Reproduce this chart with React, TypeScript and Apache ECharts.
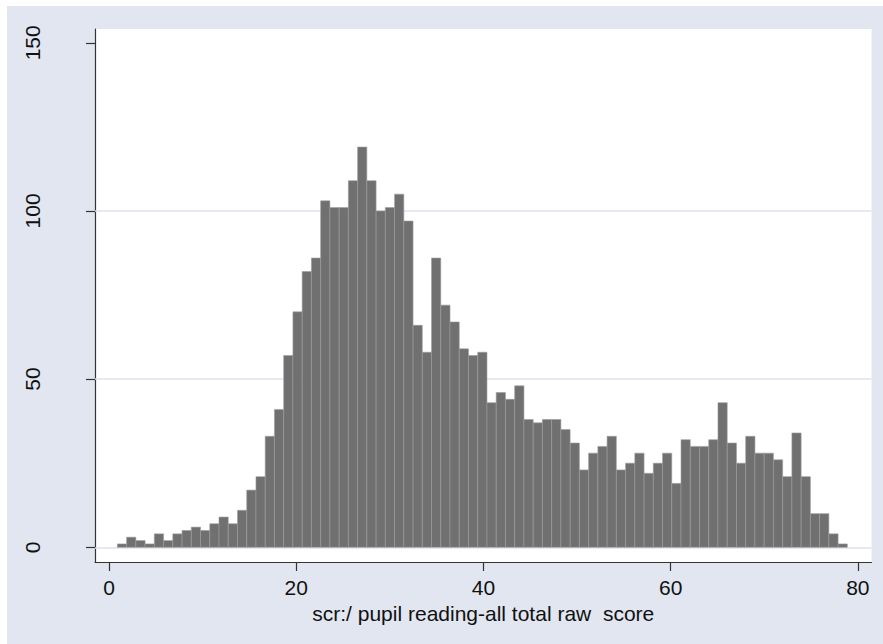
import React, { useEffect, useRef } from "react";
import * as echarts from "echarts";

const binStart = 0.89;
const binWidth = 0.9872;
const counts = [
  1, 3, 2, 1, 4, 2, 4, 5, 6, 5,
  7, 9, 7, 11, 17, 21, 33, 41, 57, 70,
  82, 86, 103, 101, 101, 109, 119, 109, 100, 101,
  105, 97, 66, 58, 86, 72, 67, 59, 57, 58,
  43, 46, 44, 48, 38, 37, 38, 38, 35, 31,
  23, 28, 30, 33, 23, 25, 28, 22, 25, 28,
  19, 32, 30, 30, 32, 43, 31, 25, 33, 28,
  28, 26, 21, 34, 21, 10, 10, 4, 1,
];
const xTicks = [0, 20, 40, 60, 80];
const yTicks = [0, 50, 100, 150];
const gridValues = [0, 50, 100];
const xTitle = "scr:/ pupil reading-all total raw  score";

const FONT = "'Liberation Sans', Arial, Helvetica, sans-serif";

export default function App() {
  const ref = useRef<HTMLDivElement>(null);
  useEffect(() => {
    if (!ref.current) return;
    const chart = echarts.init(ref.current, null, { renderer: "svg" });
    const data = counts.map((c, i) => [
      binStart + i * binWidth,
      binStart + (i + 1) * binWidth,
      c,
    ]);
    chart.setOption({
      animation: false,
      backgroundColor: "#E1E6F0",
      textStyle: { fontFamily: FONT },
      grid: {
        left: 88,
        right: 11.5,
        top: 23,
        bottom: 82,
        show: true,
        backgroundColor: "#ffffff",
        borderWidth: 0,
      },
      xAxis: {
        type: "value",
        min: -1.5,
        max: 81.46,
        name: xTitle,
        nameLocation: "middle",
        nameGap: 41,
        nameTextStyle: { fontSize: 21, color: "#111", fontFamily: FONT },
        axisLine: {
          show: true,
          onZero: false,
          lineStyle: { color: "#333", width: 1.2 },
        },
        axisTick: {
          show: true,
          length: 9,
          customValues: xTicks,
          lineStyle: { color: "#333", width: 1.2 },
        },
        axisLabel: {
          show: true,
          customValues: xTicks,
          fontSize: 21,
          color: "#111",
          margin: 15,
          fontFamily: FONT,
        },
        splitLine: { show: false },
      },
      yAxis: {
        type: "value",
        min: -4.37,
        max: 154.1,
        axisLine: {
          show: true,
          onZero: false,
          lineStyle: { color: "#333", width: 1.2 },
        },
        axisTick: {
          show: true,
          length: 9,
          customValues: yTicks,
          lineStyle: { color: "#333", width: 1.2 },
        },
        axisLabel: {
          show: true,
          customValues: yTicks,
          rotate: 90,
          fontSize: 21,
          color: "#111",
          margin: 52,
          fontFamily: FONT,
        },
        splitLine: { show: false },
      },
      series: [
        {
          type: "line",
          data: [],
          z: 0,
          silent: true,
          markLine: {
            silent: true,
            symbol: ["none", "none"],
            label: { show: false },
            lineStyle: { type: "solid", color: "#DCE3EE", width: 1.6 },
            data: gridValues.map((v) => ({ yAxis: v })),
          },
        },
        {
          type: "custom",
          z: 10,
          clip: true,
          encode: { x: [0, 1], y: 2 },
          data,
          renderItem: (params: any, api: any) => {
            const p0 = api.coord([api.value(0), 0]);
            const p1 = api.coord([api.value(1), api.value(2)]);
            return {
              type: "rect",
              z2: 10,
              shape: {
                x: p0[0],
                y: p1[1],
                width: p1[0] - p0[0],
                height: p0[1] - p1[1],
              },
              style: { fill: "#707070", stroke: "#9C9C9C", lineWidth: 0.6 },
            };
          },
        },
      ],
    });
    return () => chart.dispose();
  }, []);
  return (
    <div
      ref={ref}
      style={{ position: "absolute", left: 7, top: 6, width: 876, height: 638 }}
    />
  );
}
